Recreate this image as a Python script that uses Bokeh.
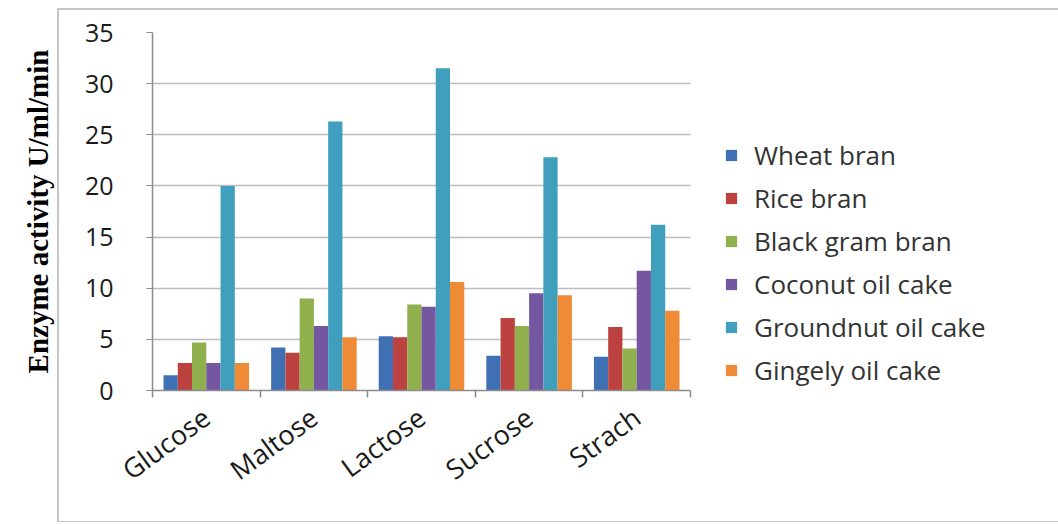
from bokeh.plotting import figure
from bokeh.models import FixedTicker, Legend, LegendItem, Range1d, ColumnDataSource
from bokeh.embed import file_html
from bokeh.resources import INLINE

categories = ["Glucose", "Maltose", "Lactose", "Sucrose", "Strach"]
series_names = ["Wheat bran", "Rice bran", "Black gram bran", "Coconut oil cake",
                "Groundnut oil cake", "Gingely oil cake"]
wheat_bran = [1.5, 4.2, 5.3, 3.4, 3.3]
rice_bran = [2.7, 3.7, 5.2, 7.1, 6.2]
black_gram_bran = [4.7, 9.0, 8.4, 6.3, 4.1]
coconut_oil_cake = [2.7, 6.3, 8.2, 9.5, 11.7]
groundnut_oil_cake = [20.0, 26.3, 31.5, 22.8, 16.2]
gingely_oil_cake = [2.7, 5.2, 10.6, 9.3, 7.8]
y_ticks = [0, 5, 10, 15, 20, 25, 30, 35]

series_values = [wheat_bran, rice_bran, black_gram_bran, coconut_oil_cake,
                 groundnut_oil_cake, gingely_oil_cake]
colors = ["#3f70b4", "#bc4240", "#8fb04c", "#7457a0", "#3f9fbd", "#ef8a36"]

FONT = "Open Sans"
n = len(categories)
y_max = y_ticks[-1]
bar_w = 0.1325

W, H = 1058, 525
LEFT, TOP, BOTTOM = 152, 32, 135
PLOT_RIGHT = 690    # where the category axis ends; legend sits to its right
x_end = n * (W - LEFT) / (PLOT_RIGHT - LEFT)

p = figure(width=W, height=H, x_range=Range1d(0, x_end), y_range=Range1d(0, y_max),
           output_backend="svg", toolbar_location=None,
           min_border_left=LEFT, min_border_right=0, min_border_top=TOP,
           min_border_bottom=BOTTOM)
p.background_fill_color = "white"
p.border_fill_color = None
p.outline_line_color = None

# faint outer chart border drawn as CSS background behind the transparent canvas
g = "linear-gradient(#c4c4c4, #c4c4c4)"
p.styles = {
    "background-color": "white",
    "background-image": ", ".join([g, g, g]),
    "background-position": "57px 8px, 57px 8px, 57px 521px",
    "background-size": "1001px 2px, 2px 514px, 1001px 1px",
    "background-repeat": "no-repeat",
}

items = []
for j, (name, vals) in enumerate(zip(series_names, series_values)):
    xs = [i + 0.5 + (j - 2.5) * bar_w for i in range(n)]
    src = ColumnDataSource(dict(x=xs, top=vals))
    r = p.vbar(x="x", top="top", bottom=0, width=bar_w, source=src,
               fill_color=colors[j], line_color=None)
    items.append(LegendItem(label=name, renderers=[r]))

# grid
p.xgrid.visible = False
p.ygrid.ticker = FixedTicker(ticks=y_ticks)
p.ygrid.grid_line_color = "#bdbdbd"
p.ygrid.grid_line_width = 1.5
p.ygrid.cross_bounds = (0, n)

# y axis
p.yaxis.ticker = FixedTicker(ticks=y_ticks)
p.yaxis.axis_line_color = "#8c8c8c"
p.yaxis.axis_line_width = 1.5
p.yaxis.major_tick_line_color = "#8c8c8c"
p.yaxis.major_tick_out = 6
p.yaxis.major_tick_in = 0
p.yaxis.minor_tick_line_color = None
p.yaxis.major_label_text_font = FONT
p.yaxis.major_label_text_font_size = "25px"
p.yaxis.major_label_text_color = "#1a1a1a"
p.yaxis.major_label_standoff = 33
p.yaxis.axis_label = "Enzyme activity U/ml/min"
p.yaxis.axis_label_text_font = "Liberation Serif"
p.yaxis.axis_label_text_font_style = "bold"
p.yaxis.axis_label_text_font_size = "29px"
p.yaxis.axis_label_text_color = "black"
p.yaxis.axis_label_standoff = 28

# x axis
centers = [i + 0.5 for i in range(n)]
p.xaxis.bounds = (0, n)
p.xaxis.ticker = FixedTicker(ticks=centers, minor_ticks=list(range(n + 1)))
p.xaxis.major_label_overrides = {c: lab for c, lab in zip(centers, categories)}
p.xaxis.axis_line_color = "#8c8c8c"
p.xaxis.axis_line_width = 1.5
p.xaxis.major_tick_line_color = None
p.xaxis.minor_tick_line_color = "#8c8c8c"
p.xaxis.minor_tick_line_width = 1.5
p.xaxis.minor_tick_out = 7
p.xaxis.minor_tick_in = 0
p.xaxis.major_label_orientation = 0.63
p.xaxis.major_label_text_font = FONT
p.xaxis.major_label_text_font_size = "27px"
p.xaxis.major_label_text_color = "#1a1a1a"
p.xaxis.major_label_standoff = 16

legend = Legend(items=items, location=(572, 2), orientation="vertical",
                label_text_font=FONT, label_text_font_size="26px",
                label_text_color="#333333", glyph_width=14, glyph_height=14,
                label_height=20, spacing=7, padding=0, margin=0,
                background_fill_alpha=0, border_line_color=None, label_standoff=16)
p.add_layout(legend, "center")

open("out.html", "w").write(file_html(p, INLINE))
